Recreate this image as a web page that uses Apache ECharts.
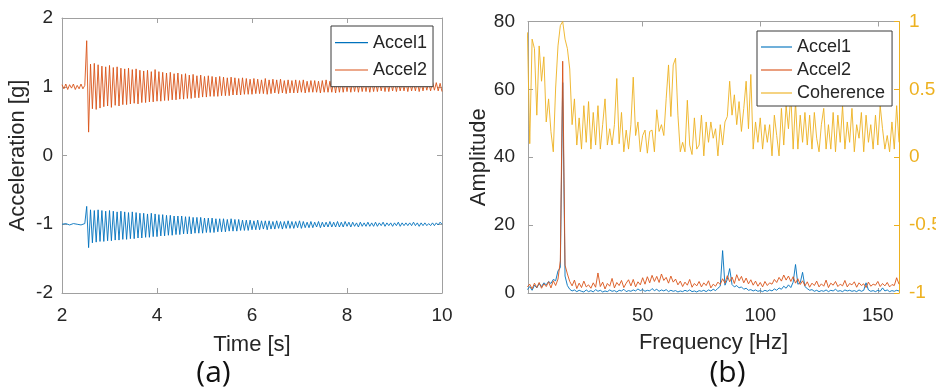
<!DOCTYPE html>
<html>
<head>
<meta charset="utf-8">
<title>Accel time history and spectrum</title>
<script src="https://cdn.jsdelivr.net/npm/echarts@6.0.0/dist/echarts.min.js"></script>
<style>
  html, body { margin: 0; padding: 0; background: #fff; }
  #chart { width: 936px; height: 387px; }
</style>
</head>
<body>
<div id="chart"></div>
<script>
// (a) time history, one sample every 0.04 s starting at 2 s
const timeStart = 2;
const timeStep = 0.04;

const accel1Time = [
  -1.00, -1.01, -0.99, -1.00, -1.01, -1.00, -0.99, -1.01, -1.00, -0.99, -1.01, -1.00, -0.99,
  -0.74, -1.34, -0.79, -1.27, -0.80, -1.26, -0.79, -1.25, -0.80, -1.25,
  -0.81, -1.24, -0.80, -1.24, -0.81, -1.23, -0.82, -1.23, -0.81, -1.22,
  -0.82, -1.22, -0.83, -1.21, -0.82, -1.21, -0.83, -1.20, -0.84, -1.20,
  -0.84, -1.19, -0.85, -1.19, -0.84, -1.18, -0.85, -1.18, -0.86, -1.17,
  -0.86, -1.17, -0.87, -1.16, -0.87, -1.16, -0.88, -1.15, -0.88, -1.15,
  -0.88, -1.14, -0.89, -1.14, -0.89, -1.14, -0.90, -1.13, -0.90, -1.13,
  -0.90, -1.13, -0.91, -1.12, -0.91, -1.12, -0.91, -1.12, -0.92, -1.11,
  -0.92, -1.11, -0.92, -1.11, -0.93, -1.10, -0.92, -1.10, -0.93, -1.10,
  -0.93, -1.09, -0.94, -1.09, -0.94, -1.09, -0.94, -1.08, -0.95, -1.08,
  -0.94, -1.08, -0.95, -1.07, -0.95, -1.08, -0.95, -1.07, -0.96, -1.07,
  -0.95, -1.06, -0.96, -1.07, -0.96, -1.06, -0.95, -1.06, -0.96, -1.06,
  -0.96, -1.05, -0.95, -1.06, -0.96, -1.05, -0.97, -1.05, -0.96, -1.05,
  -0.97, -1.04, -0.96, -1.05, -0.97, -1.04, -0.97, -1.04, -0.96, -1.04,
  -0.97, -1.04, -0.96, -1.04, -0.97, -1.04, -0.96, -1.03, -0.97, -1.04,
  -0.97, -1.03, -0.98, -1.04, -0.97, -1.03, -0.98, -1.03, -0.97, -1.03,
  -0.98, -1.03, -0.97, -1.03, -0.98, -1.02, -0.97, -1.03, -0.98, -1.02,
  -0.98, -1.03, -0.98, -1.02, -0.97, -1.03, -0.98, -1.02, -0.98, -1.02,
  -0.98, -1.02, -0.97, -1.02, -0.98, -1.03, -0.98, -1.02, -0.98, -1.02,
  -0.99, -1.02, -0.98, -1.02, -0.98, -1.01, -0.97, -1.00
];

const accel2Time = [
  1.03, 0.97, 1.04, 0.96, 1.03, 0.98, 1.04, 0.96, 1.02, 0.97, 1.04, 0.97, 1.02,
  1.67, 0.34, 1.33, 0.68, 1.34, 0.67, 1.32, 0.69, 1.30, 0.71,
  1.29, 0.72, 1.31, 0.70, 1.28, 0.73, 1.29, 0.72, 1.27, 0.74,
  1.26, 0.74, 1.27, 0.75, 1.25, 0.76, 1.26, 0.75, 1.24, 0.77,
  1.23, 0.77, 1.24, 0.78, 1.22, 0.78, 1.25, 0.79, 1.22, 0.79,
  1.21, 0.80, 1.20, 0.80, 1.21, 0.81, 1.19, 0.81, 1.20, 0.82,
  1.18, 0.82, 1.19, 0.83, 1.17, 0.83, 1.18, 0.84, 1.16, 0.84,
  1.17, 0.85, 1.15, 0.85, 1.16, 0.86, 1.15, 0.86, 1.14, 0.86,
  1.15, 0.87, 1.14, 0.87, 1.13, 0.87, 1.14, 0.88, 1.13, 0.88,
  1.12, 0.88, 1.13, 0.89, 1.12, 0.89, 1.11, 0.89, 1.12, 0.90,
  1.11, 0.90, 1.10, 0.90, 1.12, 0.89, 1.10, 0.90, 1.11, 0.91,
  1.10, 0.90, 1.11, 0.91, 1.09, 0.90, 1.10, 0.91, 1.09, 0.91,
  1.10, 0.91, 1.09, 0.92, 1.10, 0.91, 1.08, 0.92, 1.09, 0.92,
  1.09, 0.92, 1.08, 0.91, 1.09, 0.92, 1.10, 0.92, 1.08, 0.92,
  1.09, 0.91, 1.10, 0.92, 1.09, 0.92, 1.08, 0.93, 1.09, 0.92,
  1.08, 0.93, 1.09, 0.92, 1.08, 0.93, 1.07, 0.93, 1.08, 0.92,
  1.08, 0.93, 1.07, 0.93, 1.08, 0.94, 1.07, 0.93, 1.08, 0.93,
  1.07, 0.94, 1.08, 0.93, 1.07, 0.94, 1.06, 0.94, 1.07, 0.93,
  1.07, 0.94, 1.06, 0.94, 1.07, 0.93, 1.06, 0.94, 1.07, 0.95,
  1.06, 0.94, 1.07, 0.95, 1.06, 0.94, 1.05, 0.93
];

// (b) spectra, 1 Hz bins starting at 1 Hz
const freqStart = 1;
const freqStep = 1;

const accel1Amp = [
  1.0, 1.9, 0.8, 2.3, 1.5, 2.8, 1.9, 3.0, 2.4, 3.4,
  2.8, 4.0, 3.6, 6.5, 7.5, 62, 5.0, 2.2, 1.1, 0.6,
  0.9, 0.4, 0.8, 0.5, 0.3, 0.9, 0.4, 0.7, 0.3, 1.0,
  0.5, 0.8, 0.3, 0.6, 0.4, 0.9, 0.5, 0.7, 0.3, 0.8,
  0.6, 1.1, 0.4, 0.7, 0.5, 0.9, 0.6, 1.2, 0.7, 1.0,
  0.5, 0.8, 0.6, 1.3, 0.7, 1.1, 0.5, 0.9, 0.6, 1.0,
  0.4, 0.8, 0.5, 0.7, 0.3, 0.6, 0.4, 0.8, 0.5, 0.9,
  0.4, 0.6, 0.3, 0.7, 0.5, 0.8, 0.4, 0.9, 0.6, 1.1,
  0.7, 1.4, 2.0, 12.5, 2.3, 4.0, 7.2, 2.5, 1.8, 2.2,
  1.5, 1.8, 1.1, 1.4, 0.8, 1.0, 0.6, 0.9, 0.5, 0.7,
  0.4, 0.8, 0.5, 0.9, 0.6, 1.2, 0.8, 1.5, 1.1, 2.0,
  1.4, 2.4, 1.6, 3.2, 8.4, 2.6, 3.0, 6.1, 1.9, 1.3,
  0.8, 1.0, 0.5, 0.8, 0.4, 0.7, 0.5, 0.9, 0.4, 0.8,
  0.6, 1.1, 0.5, 0.7, 0.4, 0.9, 0.6, 0.8, 0.5, 0.7,
  0.4, 0.9, 0.5, 0.8, 3.0, 0.9, 0.5, 0.7, 0.4, 0.8,
  0.5, 1.5, 0.6, 0.9, 0.4, 0.7, 0.5, 0.8, 0.6
];

const accel2Amp = [
  1.8, 2.6, 1.2, 2.9, 1.6, 3.1, 1.4, 2.7, 1.9, 3.3,
  1.5, 3.6, 2.2, 4.1, 9.5, 68.3, 8.2, 5.6, 3.4, 2.1,
  3.8, 1.3, 2.9, 1.6, 3.5, 1.8, 2.4, 1.4, 3.0, 1.7,
  5.9, 1.9, 3.2, 1.2, 2.8, 2.0, 4.3, 1.5, 3.1, 2.2,
  3.7, 1.6, 2.9, 3.9, 2.1, 4.0, 1.8, 3.3, 2.4, 4.5,
  2.6, 4.8, 3.0, 5.2, 3.4, 4.9, 3.1, 5.6, 3.7, 4.6,
  2.9, 5.0, 3.2, 4.1, 2.4, 3.5, 1.9, 3.2, 2.3, 4.0,
  1.7, 2.8, 2.1, 3.4, 1.8, 3.0, 2.2, 3.6, 1.5, 2.6,
  2.0, 3.2, 2.5, 4.2, 2.9, 5.1, 3.3, 4.7, 2.8, 5.4,
  3.6, 4.9, 3.0, 4.4, 2.7, 3.9, 2.3, 3.5, 2.0, 3.1,
  1.8, 3.4, 2.2, 3.0, 2.6, 4.0, 3.1, 4.6, 3.5, 5.3,
  3.8, 5.0, 3.4, 4.8, 2.9, 4.2, 2.5, 3.6, 2.1, 3.3,
  1.7, 2.9, 2.2, 3.5, 1.8, 2.7, 2.0, 3.8, 1.6, 2.9,
  2.3, 3.4, 1.9, 2.6, 2.1, 3.7, 1.8, 2.8, 2.4, 3.3,
  1.7, 3.0, 2.2, 2.7, 1.6, 3.2, 2.0, 2.6, 2.3, 3.4,
  1.9, 2.8, 2.1, 3.1, 1.8, 2.5, 2.2, 4.5, 2.6
];

const coherence = [
  0.92, 0.10, 0.87, 0.80, 0.31, 0.82, 0.56, 0.74, 0.26, 0.43,
  0.19, 0.04, 0.51, 0.82, 0.97, 1.00, 0.87, 0.80, 0.65, 0.24,
  0.43, 0.09, 0.29, 0.06, 0.38, 0.11, 0.41, 0.06, 0.33, 0.09,
  0.38, 0.06, 0.24, 0.43, 0.09, 0.21, 0.09, 0.24, 0.58, 0.10,
  0.33, 0.04, 0.20, 0.06, 0.24, 0.59, 0.16, 0.26, 0.04, 0.16,
  0.20, 0.03, 0.19, 0.20, 0.04, 0.35, 0.19, 0.24, 0.16, 0.43,
  0.68, 0.30, 0.68, 0.73, 0.31, 0.04, 0.11, 0.04, 0.42, 0.09,
  0.02, 0.29, 0.06, 0.09, 0.31, 0.01, 0.26, 0.11, 0.26, 0.14,
  0.21, 0.01, 0.24, 0.09, 0.26, 0.30, 0.56, 0.31, 0.46, 0.24,
  0.41, 0.19, 0.36, 0.56, 0.21, 0.61, 0.06, 0.26, 0.11, 0.29,
  0.06, 0.24, 0.11, 0.24, 0.01, 0.31, 0.16, 0.01, 0.36, 0.09,
  0.38, 0.21, 0.46, 0.06, 0.41, 0.06, 0.31, 0.11, 0.33, 0.09,
  0.31, 0.06, 0.33, 0.14, 0.04, 0.24, 0.36, 0.06, 0.24, 0.06,
  0.33, 0.04, 0.31, 0.11, 0.38, 0.06, 0.26, 0.11, 0.36, 0.04,
  0.24, 0.14, 0.33, 0.04, 0.31, 0.11, 0.24, 0.06, 0.31, 0.09,
  0.38, 0.21, 0.06, 0.16, 0.04, 0.26, 0.06, 0.38, 0.11
];

// tick labels
const timeTicks = [2, 4, 6, 8, 10];
const accelTicks = [-2, -1, 0, 1, 2];
const freqTicks = [50, 100, 150];
const ampTicks = [0, 20, 40, 60, 80];
const cohTicks = [-1, -0.5, 0, 0.5, 1];

const seriesNames = ['Accel1', 'Accel2', 'Coherence'];

const BLUE = '#0072BD';
const RED = '#D95319';
const YELLOW = '#EDB120';
const BOX = '#a0a0a0';
const INK = '#262626';
const FONT = 'Liberation Sans, Arial, sans-serif';
// flat bar used as legend swatch so the key shows a plain line
const LEGEND_LINE = 'path://M0,0 L33,0 L33,1.2 L0,1.2 Z';

const withTime = (vals) => vals.map((v, i) => [+(timeStart + i * timeStep).toFixed(2), v]);
const withFreq = (vals) => vals.map((v, i) => [freqStart + i * freqStep, v]);

function valueAxis(opts) {
  const { ticks, labels = true, color = BOX, labelColor = INK, margin = 9 } = opts;
  return {
    type: 'value',
    gridIndex: opts.grid,
    position: opts.position,
    min: opts.min,
    max: opts.max,
    name: opts.name || '',
    nameLocation: 'middle',
    nameGap: opts.nameGap || 0,
    nameTextStyle: { color: INK, fontSize: 22, fontFamily: FONT },
    axisLine: { show: true, onZero: false, lineStyle: { color, width: 1 } },
    axisTick: { show: true, inside: true, length: 5, customValues: ticks, lineStyle: { color } },
    axisLabel: {
      show: labels,
      customValues: ticks,
      color: labelColor,
      fontSize: 19,
      fontFamily: FONT,
      margin
    },
    splitLine: { show: false }
  };
}

const chart = echarts.init(document.getElementById('chart'), null, { renderer: 'canvas' });

const lineSeries = (name, color, xAxisIndex, yAxisIndex, data) => ({
  name,
  type: 'line',
  xAxisIndex,
  yAxisIndex,
  data,
  symbol: 'none',
  showSymbol: false,
  clip: true,
  lineStyle: { color, width: 0.9 },
  itemStyle: { color },
  emphasis: { disabled: true }
});

const legendBase = {
  orient: 'vertical',
  icon: LEGEND_LINE,
  itemWidth: 33,
  itemHeight: 14,
  backgroundColor: '#fff',
  borderColor: '#3a3a3a',
  borderWidth: 1,
  textStyle: { color: INK, fontSize: 18, fontFamily: FONT },
  selectedMode: false
};

const captionStyle = (text) => ({
  text,
  fill: '#111',
  font: '30px "Open Sans", sans-serif',
  textAlign: 'center',
  textVerticalAlign: 'top'
});

chart.setOption({
  animation: false,
  grid: [
    { left: 62, top: 18, width: 380, height: 275, outerBoundsMode: 'none' },
    { left: 528, top: 21.5, width: 371, height: 271.5, outerBoundsMode: 'none' }
  ],
  xAxis: [
    valueAxis({ grid: 0, position: 'bottom', min: 2, max: 10, ticks: timeTicks, name: 'Time [s]', nameGap: 41, margin: 13 }),
    valueAxis({ grid: 0, position: 'top', min: 2, max: 10, ticks: timeTicks, labels: false }),
    valueAxis({ grid: 1, position: 'bottom', min: 1.25, max: 159, ticks: freqTicks, name: 'Frequency [Hz]', nameGap: 39, margin: 13 }),
    valueAxis({ grid: 1, position: 'top', min: 1.25, max: 159, ticks: freqTicks, labels: false })
  ],
  yAxis: [
    valueAxis({ grid: 0, position: 'left', min: -2, max: 2, ticks: accelTicks, name: 'Acceleration [g]', nameGap: 33 }),
    valueAxis({ grid: 0, position: 'right', min: -2, max: 2, ticks: accelTicks, labels: false }),
    valueAxis({ grid: 1, position: 'left', min: 0, max: 80, ticks: ampTicks, name: 'Amplitude', nameGap: 35, margin: 13 }),
    valueAxis({ grid: 1, position: 'right', min: -1, max: 1, ticks: cohTicks, color: YELLOW, labelColor: YELLOW, margin: 10 })
  ],
  legend: [
    Object.assign({}, legendBase, {
      left: 331, top: 26,
      itemGap: 9.3,
      padding: [7.7, 6, 7.7, 4],
      data: seriesNames.slice(0, 2)
    }),
    Object.assign({}, legendBase, {
      left: 757, top: 31,
      itemWidth: 31,
      itemGap: 5,
      padding: [7, 7, 4, 4],
      data: seriesNames
    })
  ],
  series: [
    lineSeries('Accel1', BLUE, 0, 0, withTime(accel1Time)),
    lineSeries('Accel2', RED, 0, 0, withTime(accel2Time)),
    lineSeries('Accel1', BLUE, 2, 2, withFreq(accel1Amp)),
    lineSeries('Accel2', RED, 2, 2, withFreq(accel2Amp)),
    lineSeries('Coherence', YELLOW, 2, 3, withFreq(coherence))
  ],
  graphic: [
    { type: 'text', x: 213.5, y: 358, style: captionStyle('(a)') },
    { type: 'text', x: 727.5, y: 358, style: captionStyle('(b)') }
  ]
});

window.addEventListener('resize', () => chart.resize());
</script>
</body>
</html>
